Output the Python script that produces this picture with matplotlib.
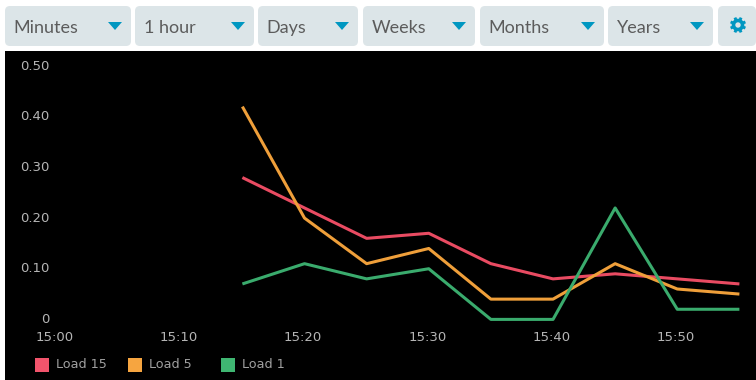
import math
import matplotlib
matplotlib.use("Agg")
import matplotlib.pyplot as plt
from matplotlib.patches import FancyBboxPatch, Polygon, Rectangle, Wedge
from matplotlib.transforms import ScaledTranslation

# Chart data
minutes = [15, 20, 25, 30, 35, 40, 45, 50, 55]
load_15 = [0.28, 0.22, 0.16, 0.17, 0.11, 0.08, 0.09, 0.08, 0.07]
load_5 = [0.42, 0.20, 0.11, 0.14, 0.04, 0.04, 0.11, 0.06, 0.05]
load_1 = [0.07, 0.11, 0.08, 0.10, 0.00, 0.00, 0.22, 0.02, 0.02]
series_names = ["Load 15", "Load 5", "Load 1"]
series_colors = ["#e94b62", "#ef9f3a", "#3aab6d"]
legend_colors = ["#f2546c", "#f6a540", "#3fb672"]
x_ticks = [0, 10, 20, 30, 40, 50]
x_labels = ["15:00", "15:10", "15:20", "15:30", "15:40", "15:50"]
y_ticks = [0, 0.1, 0.2, 0.3, 0.4, 0.5]
y_labels = ["0", "0.10", "0.20", "0.30", "0.40", "0.50"]
button_labels = ["Minutes", "1 hour", "Days", "Weeks", "Months", "Years"]

W, H = 756, 380
ICON = "#0097c1"
BOX = "#dce5e8"
fig = plt.figure(figsize=(W / 100, H / 100), dpi=100, facecolor="white")

# Overlay in pixel coordinates for the button bar and the panel
ui = fig.add_axes([0, 0, 1, 1], zorder=0)
ui.set_xlim(0, W)
ui.set_ylim(H, 0)
ui.axis("off")
ui.add_patch(Rectangle((5, 51), W - 5, H - 51, fc="black", ec="none"))

# Select boxes: left, right
button_edges = [(5, 131), (135, 254), (258, 358), (363, 475), (480, 604), (608, 713)]
for label, (x0, x1) in zip(button_labels, button_edges):
    ui.add_patch(FancyBboxPatch((x0 + 5, 11), x1 - x0 - 10, 30,
                                boxstyle="round,pad=5,rounding_size=5",
                                fc=BOX, ec="none"))
    ui.text(x0 + 8.5, 33, label, fontsize=13, color="#5c5c5c", family="Lato",
            va="baseline", ha="left")
    ui.add_patch(Polygon([(x1 - 23, 22), (x1 - 9, 22), (x1 - 16, 30)],
                         fc=ICON, ec="none"))

# Settings button with gear icon
ui.add_patch(FancyBboxPatch((723, 11), 28, 30, boxstyle="round,pad=5,rounding_size=5",
                            fc=BOX, ec="none"))
gear_x, gear_y = 738, 25
ui.add_patch(Wedge((gear_x, gear_y), 6.3, 0, 360, width=3.6, fc=ICON, ec="none"))
for i in range(8):
    a = math.radians(i * 45 + 22.5)
    ui.plot([gear_x + 5 * math.cos(a), gear_x + 8 * math.cos(a)],
            [gear_y + 5 * math.sin(a), gear_y + 8 * math.sin(a)],
            color=ICON, lw=2.1, solid_capstyle="butt")

# Line chart axes, placed so 15:00 sits at x=56 and 0 at y=319.4
ax = fig.add_axes([56 / W, 1 - 319.4 / H, (739.4 - 56) / W, (319.4 - 66.1) / H], zorder=1)
ax.patch.set_alpha(0)
for spine in ax.spines.values():
    spine.set_visible(False)
for values, color in zip([load_15, load_5, load_1], series_colors):
    ax.plot(minutes, values, color=color, lw=2.2, clip_on=False,
            solid_joinstyle="round", solid_capstyle="butt")
ax.set_xlim(0, 55)
ax.set_ylim(0, 0.5)
ax.set_xticks(x_ticks)
ax.set_xticklabels(x_labels)
ax.set_yticks(y_ticks)
ax.set_yticklabels(y_labels)
ax.tick_params(axis="both", length=0, labelsize=9.5, labelcolor="#b5b5b5")
ax.tick_params(axis="x", pad=8.5)
ax.tick_params(axis="y", pad=5)

# The tick labels sit a little off their points in the reference
x_shift = ScaledTranslation(-1.5 / 100, 0, fig.dpi_scale_trans)
for tick_label in ax.get_xticklabels():
    tick_label.set_transform(tick_label.get_transform() + x_shift)
y_shift = ScaledTranslation(0, 1.5 / 100, fig.dpi_scale_trans)
for tick_label in ax.get_yticklabels():
    tick_label.set_transform(tick_label.get_transform() + y_shift)

# Legend drawn by hand to sit at the panel bottom
legend_x = [35, 128, 221]
for name, color, x in zip(series_names, legend_colors, legend_x):
    ui.add_patch(Rectangle((x, 358), 14, 13.5, fc=color, ec="none"))
    ui.text(x + 21, 364.5, name, fontsize=9.2, color="#a0a0a0", va="center", ha="left")

fig.savefig("out.png", dpi=100, facecolor="white")
